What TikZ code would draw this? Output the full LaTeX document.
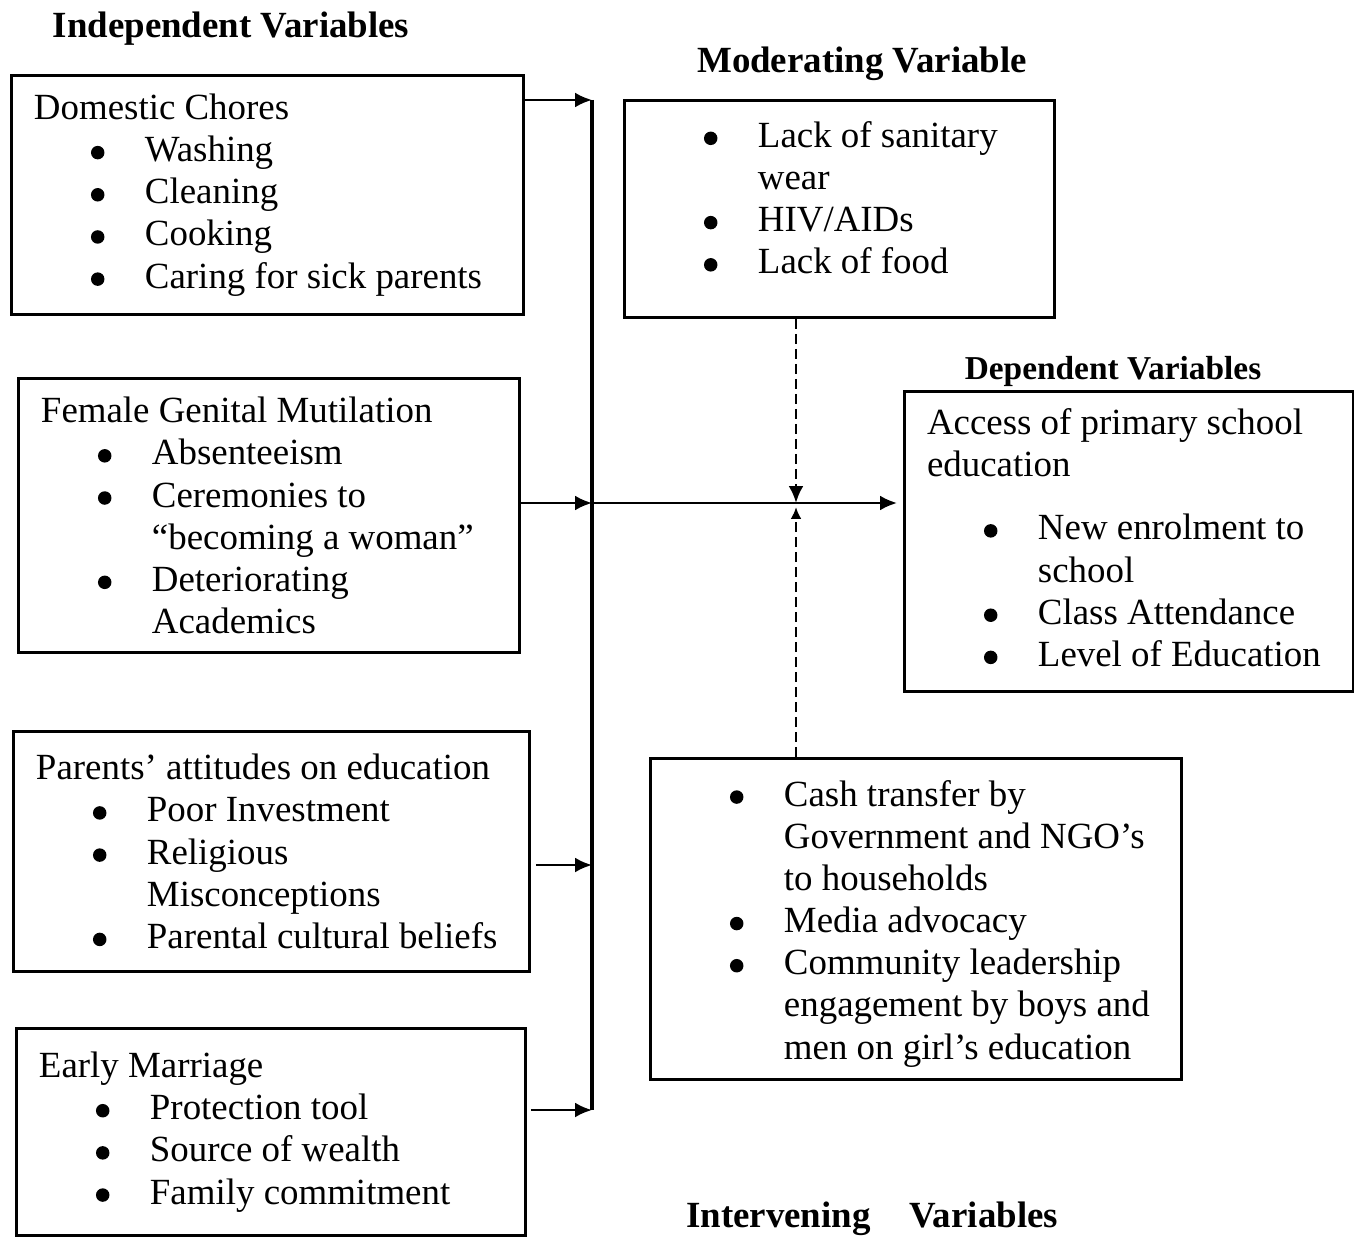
\documentclass[tikz,border=0pt]{standalone}
\usepackage{fontspec}
\setmainfont{Liberation Serif}
\usetikzlibrary{calc}
\usetikzlibrary{arrows.meta,positioning}
\setlength{\parindent}{0pt}
\newcommand{\bodysize}{\fontsize{21}{24}\selectfont}
\newcommand{\dotmark}{\tikz[baseline=0pt]\fill (0,0.18cm) circle (0.135cm);}
\newcommand{\bitem}[1]{\par\noindent\hspace*{1.14cm}\makebox[1.08cm][l]{\dotmark}\mbox{#1}}
\newcommand{\bnext}[1]{\par\noindent\hspace*{2.22cm}\mbox{#1}}

\begin{document}
\begin{tikzpicture}[x=0.02cm, y=-0.02cm]
        \tikzset{varbox/.style 2 args={draw, line width=1.7pt, anchor=north west, align=flush left,
                        inner xsep=0.45cm, inner ysep=0pt, text width=#1, minimum height=#2, font=\bodysize},
                 vartitle/.style={font=\bodysize\bfseries, anchor=base},
                 link/.style={line width=1.5pt, -{Latex[length=0.34cm,width=0.3cm]}},
                 bus/.style={line width=2.2pt},
                 modlink/.style={line width=1.6pt, dash pattern=on 0.2cm off 0.1cm, -{Latex[length=0.34cm,width=0.3cm]}}}
        \useasboundingbox (0,0) rectangle (1354,1236);

        \node[vartitle] (indeptitle) at (231,38) {Independent Variables};
        \node[vartitle] (modtitle) at (862,73) {Moderating Variable};
        \node[vartitle, font=\fontsize{19}{22}\selectfont\bfseries] (deptitle) at (1113,379) {Dependent Variables};
        \node[vartitle, anchor=base west] (inttitle) at (680,1227) {Intervening\hspace{0.78cm}Variables};

        \node[varbox={9.34cm}{4.78cm}] (chores) at (10,74) {\mbox{Domestic Chores}
            \bitem{Washing}\bitem{Cleaning}\bitem{Cooking}\bitem{Caring for sick parents}};
        \node[varbox={9.12cm}{5.48cm}] (fgm) at (17,377) {\mbox{Female Genital Mutilation}
            \bitem{Absenteeism}\bitem{Ceremonies to}\bnext{“becoming a woman”}
            \bitem{Deteriorating}\bnext{Academics}};
        \node[varbox={9.42cm}{4.80cm}] (attitudes) at (12,730) {\mbox{Parents’ attitudes on education}
            \bitem{Poor Investment}\bitem{Religious}\bnext{Misconceptions}
            \bitem{Parental cultural beliefs}};
        \node[varbox={9.28cm}{4.14cm}] (marriage) at (15,1027) {\mbox{Early Marriage}
            \bitem{Protection tool}\bitem{Source of wealth}\bitem{Family commitment}};
        \node[varbox={7.70cm}{4.34cm}] (moderating) at (623,99) {\bitem{Lack of sanitary}\bnext{wear}
            \bitem{HIV/AIDs}\bitem{Lack of food}\rule[-0.78cm]{0pt}{0.78cm}};
        \node[varbox={8.08cm}{6.00cm}] (access) at (903,390) {\mbox{Access of primary school}\par
            \mbox{education}\par\vspace{0.42cm}
            \bitem{New enrolment to}\bnext{school}\bitem{Class Attendance}
            \bitem{Level of Education}\rule[-0.16cm]{0pt}{0.16cm}};
        \node[varbox={9.72cm}{6.42cm}] (intervening) at (649,757) {\bitem{Cash transfer by}
            \bnext{Government and NGO’s}\bnext{to households}\bitem{Media advocacy}
            \bitem{Community leadership}\bnext{engagement by boys and}
            \bnext{men on girl’s education}\rule[-0.3cm]{0pt}{0.3cm}};

        \coordinate (B1) at (592,100);
        \coordinate (B2) at (592,503);
        \coordinate (B3) at (592,865);
        \coordinate (B4) at (592,1110);
        \coordinate (X) at (796,503);

        \draw[bus] (B1) -- (B4);
        \draw[link] (chores.east |- B1) -- (B1);
        \draw[link] (fgm.east |- B2) -- (B2);
        \draw[link, shorten <=0.1cm] (attitudes.east |- B3) -- (B3);
        \draw[link, shorten <=0.08cm] (marriage.east |- B4) -- (B4);
        \draw[link, shorten >=0.12cm] (B2) -- (access.west |- B2);
        \draw[modlink] (X |- moderating.south) -- (X);
        \draw[modlink, shorten >=0.08cm, -{Latex[length=0.24cm,width=0.22cm]}] (X |- intervening.north) -- (X);
\end{tikzpicture}
\end{document}
